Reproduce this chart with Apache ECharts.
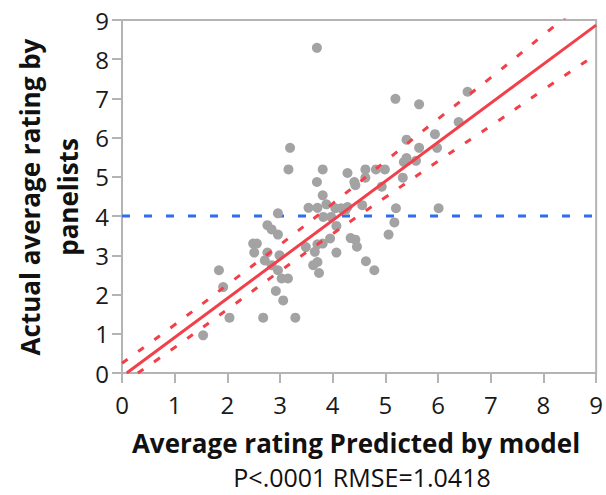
<!DOCTYPE html>
<html>
<head>
<meta charset="utf-8">
<script src="https://cdn.jsdelivr.net/npm/echarts@6/dist/echarts.min.js"></script>
<style>
html,body{margin:0;padding:0;background:#fff;}
#c{width:606px;height:495px;}
</style>
</head>
<body>
<div id="c"></div>
<script>
// Scatter points: predicted (x) vs actual (y)
const predicted = [3.70,3.19,3.16,3.81,4.28,3.70,3.81,4.41,4.43,5.19,5.64,6.56,6.39,5.40,5.94,5.64,5.98,5.40,5.35,5.58,5.33,4.93,4.62,4.82,4.99,4.62,4.56,5.20,6.01,5.17,5.06,4.34,4.43,4.46,4.63,4.79,3.54,3.71,3.88,4.05,4.16,4.24,3.82,3.97,2.96,4.07,2.76,2.84,2.96,3.95,3.81,3.71,3.49,4.07,3.66,2.49,2.56,2.51,2.76,2.99,2.71,2.84,2.96,3.71,3.63,3.74,3.03,3.15,1.84,1.92,2.92,3.06,2.04,2.68,3.29,1.54,4.28];
const actual    = [8.29,5.74,5.19,5.19,5.10,4.87,4.53,4.87,4.79,6.99,6.85,7.17,6.40,5.95,6.09,5.74,5.74,5.48,5.38,5.41,4.98,4.75,5.19,5.19,5.19,4.98,4.28,4.20,4.20,3.84,3.53,3.44,3.40,3.22,2.85,2.62,4.21,4.21,4.30,4.20,4.20,4.15,3.98,3.98,4.07,3.75,3.77,3.66,3.53,3.43,3.30,3.28,3.21,3.07,3.09,3.30,3.30,3.07,3.07,3.00,2.87,2.75,2.62,2.83,2.75,2.55,2.41,2.41,2.62,2.19,2.09,1.85,1.41,1.41,1.41,0.96,4.23];

// Fit line end points
const fitX = [0.09, 9];
const fitY = [0, 8.87];

// Confidence curves
const bandUpperX = [0, 1, 2, 3, 4, 5, 6, 7, 8, 9];
const bandUpperY = [0.25, 1.23, 2.25, 3.27, 4.32, 5.40, 6.48, 7.53, 8.62, 9.70];
const bandLowerX = [0.3, 1, 2, 3, 4, 5, 6, 7, 8, 9];
const bandLowerY = [0, 0.65, 1.62, 2.60, 3.55, 4.48, 5.40, 6.30, 7.22, 8.12];

// Mean reference line
const meanX = [0, 9];
const meanY = [4, 4];

const xTicks = [0,1,2,3,4,5,6,7,8,9];
const yTicks = [0,1,2,3,4,5,6,7,8,9];

const zip = (a, b) => a.map((v, i) => [v, b[i]]);

const FONT = '"Open Sans", "Noto Sans", sans-serif';
const axisGray = '#b4b4b4';
const red = '#f2404b';

const chart = echarts.init(document.getElementById('c'), null, {renderer: 'svg'});

const axisCommon = {
  type: 'value',
  interval: 1,
  axisLine: {show: true, lineStyle: {color: axisGray, width: 2}},
  axisTick: {show: true, length: 10, lineStyle: {color: axisGray, width: 2}},
  splitLine: {show: false},
  axisLabel: {fontFamily: FONT, fontSize: 24, color: '#1a1a1a'}
};

chart.setOption({
  animation: false,
  backgroundColor: '#fff',
  grid: {left: 122, right: 4, top: 20, bottom: 122, show: true, borderColor: axisGray, borderWidth: 2},
  xAxis: Object.assign({}, axisCommon, {
    min: xTicks[0], max: xTicks[xTicks.length - 1],
    axisLabel: Object.assign({}, axisCommon.axisLabel, {margin: 19})
  }),
  yAxis: Object.assign({}, axisCommon, {
    min: yTicks[0], max: yTicks[yTicks.length - 1],
    axisLabel: Object.assign({}, axisCommon.axisLabel, {margin: 13})
  }),
  graphic: [
    {type: 'text', x: 356, y: 443, z: 10,
     style: {text: 'Average rating Predicted by model', fontFamily: FONT, fontSize: 26, fontWeight: 'bold', fill: '#111', textAlign: 'center', textVerticalAlign: 'middle'}},
    {type: 'text', x: 362, y: 477, z: 10,
     style: {text: 'P<.0001 RMSE=1.0418', fontFamily: FONT, fontSize: 25, lineHeight: 28, fill: '#111', textAlign: 'center', textVerticalAlign: 'middle'}},
    {type: 'text', x: 49, y: 197, rotation: Math.PI / 2, z: 10,
     style: {text: 'Actual average rating by\npanelists', fontFamily: FONT, fontSize: 26, fontWeight: 'bold', fill: '#111', textAlign: 'center', textVerticalAlign: 'middle', lineHeight: 38}}
  ],
  series: [
    {type: 'line', data: zip(meanX, meanY), symbol: 'none', z: 1,
     lineStyle: {color: '#2f6cf0', width: 3, type: [8, 14]}},
    {type: 'scatter', data: zip(predicted, actual), symbolSize: 10, z: 2,
     itemStyle: {color: '#a3a3a3', opacity: 1}},
    {type: 'line', data: zip(fitX, fitY), symbol: 'none', z: 3, clip: true,
     lineStyle: {color: red, width: 3}},
    {type: 'line', data: zip(bandUpperX, bandUpperY), symbol: 'none', smooth: true, z: 3, clip: true,
     lineStyle: {color: red, width: 3, type: [7, 13]}},
    {type: 'line', data: zip(bandLowerX, bandLowerY), symbol: 'none', smooth: true, z: 3, clip: true,
     lineStyle: {color: red, width: 3, type: [7, 13]}}
  ]
});
</script>
</body>
</html>
